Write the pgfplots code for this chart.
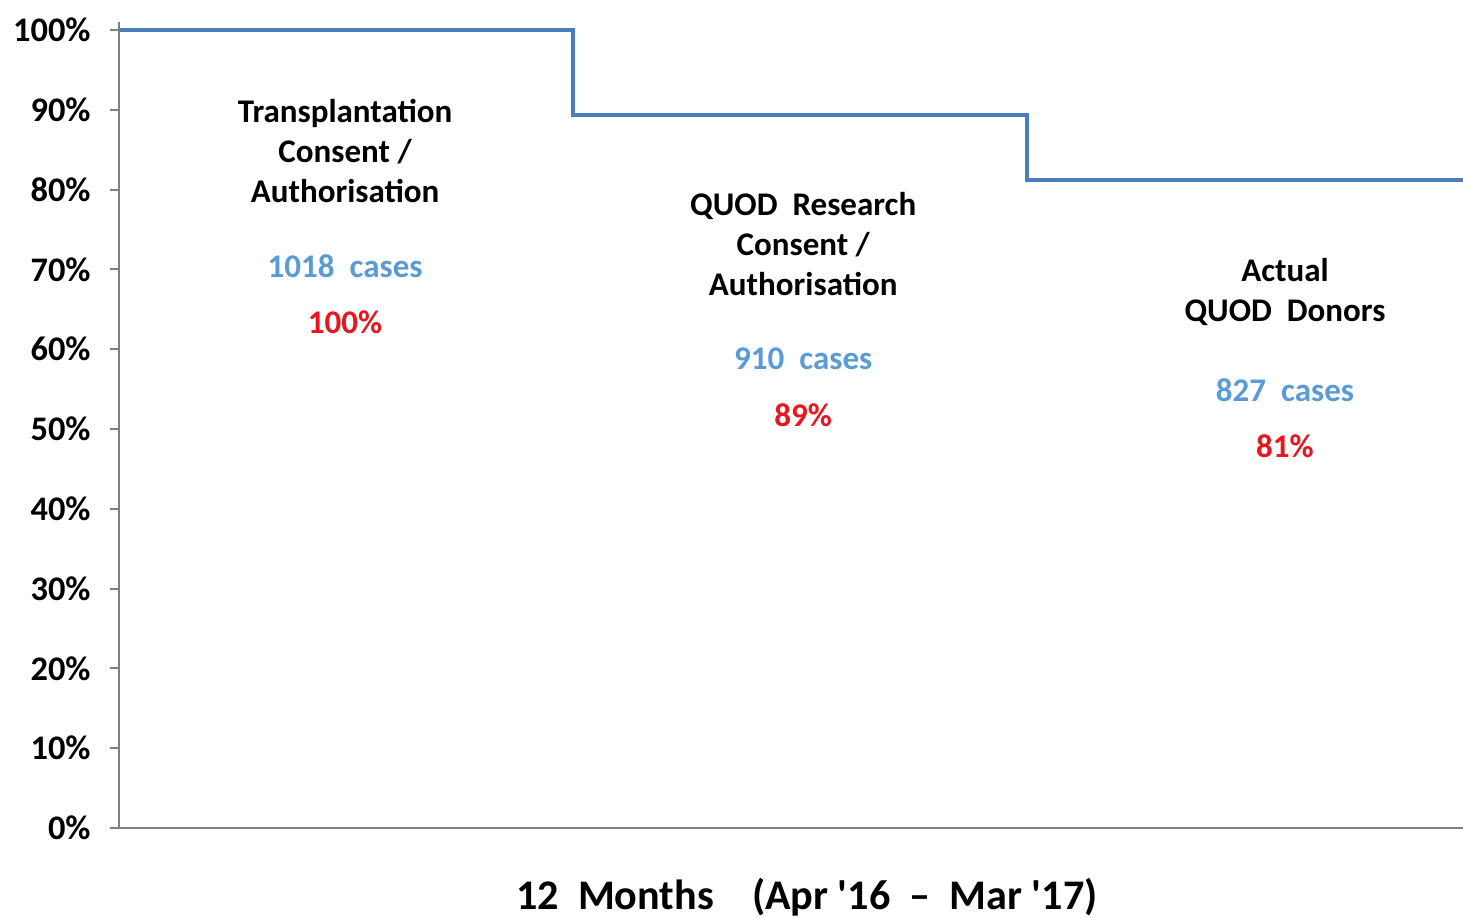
\documentclass[border=0pt]{standalone}
\usepackage{fontspec}
\setmainfont{Carlito}[Ligatures=TeXOff]
\usepackage{pgfplots}
\pgfplotsset{compat=1.18}
\definecolor{stepblue}{RGB}{74,126,187}
\definecolor{txtblue}{RGB}{91,155,213}
\definecolor{txtred}{RGB}{232,22,30}
\definecolor{axgray}{RGB}{128,128,128}
\begin{document}
\begin{tikzpicture}
\begin{axis}[
  name=ax,
  scale only axis,
  width=13.44cm, height=8.06cm,
  xmin=0, xmax=2.96, ymin=0, ymax=101,
  axis x line=bottom, axis y line=left,
  axis line style={axgray, line width=0.6pt, -},
  xtick=\empty,
  ytick={0,10,...,100},
  yticklabel={\pgfmathprintnumber{\tick}\%},
  /pgf/number format/assume math mode=true,
  yticklabel style={font=\fontsize{9.8}{11}\selectfont\bfseries, text=black, xshift=-0.07cm},
  tick style={axgray, line width=0.6pt},
  tick align=outside,
  major tick length=0.09cm,
  clip=false,
]
\addplot[const plot, stepblue, line width=1.2pt] coordinates {(0,100) (1,89.3) (2,81.2) (2.96,81.2)};
% block 1
\node[align=center, font=\fontsize{9.4}{11.4}\selectfont\bfseries] at (axis cs:0.498,84.84) {Transplantation\\Consent /\\Authorisation};
\node[font=\fontsize{9.4}{10}\selectfont\bfseries, text=txtblue] at (axis cs:0.498,70.43) {1018\ \ cases};
\node[font=\fontsize{9.4}{10}\selectfont\bfseries, text=txtred] at (axis cs:0.498,63.41) {100\%};
% block 2
\node[align=center, font=\fontsize{9.4}{11.4}\selectfont\bfseries] at (axis cs:1.507,73.18) {QUOD\ \ Research\\Consent /\\Authorisation};
\node[font=\fontsize{9.4}{10}\selectfont\bfseries, text=txtblue] at (axis cs:1.507,58.77) {910\ \ cases};
\node[font=\fontsize{9.4}{10}\selectfont\bfseries, text=txtred] at (axis cs:1.507,51.75) {89\%};
% block 3
\node[align=center, font=\fontsize{9.4}{11.4}\selectfont\bfseries] at (axis cs:2.568,67.17) {Actual\\QUOD\ \ Donors};
\node[font=\fontsize{9.4}{10}\selectfont\bfseries, text=txtblue] at (axis cs:2.568,54.89) {827\ \ cases};
\node[font=\fontsize{9.4}{10}\selectfont\bfseries, text=txtred] at (axis cs:2.568,47.87) {81\%};
% x label
\node[font=\fontsize{12}{14}\selectfont\bfseries] at (axis cs:1.515,-8.65) {12\ \ Months\ \ \ \ (Apr '16\ \ –\ \ Mar '17)};
\end{axis}
\pgfresetboundingbox
\path ([shift={(-1.19cm,-0.89cm)}]ax.south west) rectangle ([shift={(0cm,0.22cm)}]ax.north east);
\end{tikzpicture}
\end{document}
